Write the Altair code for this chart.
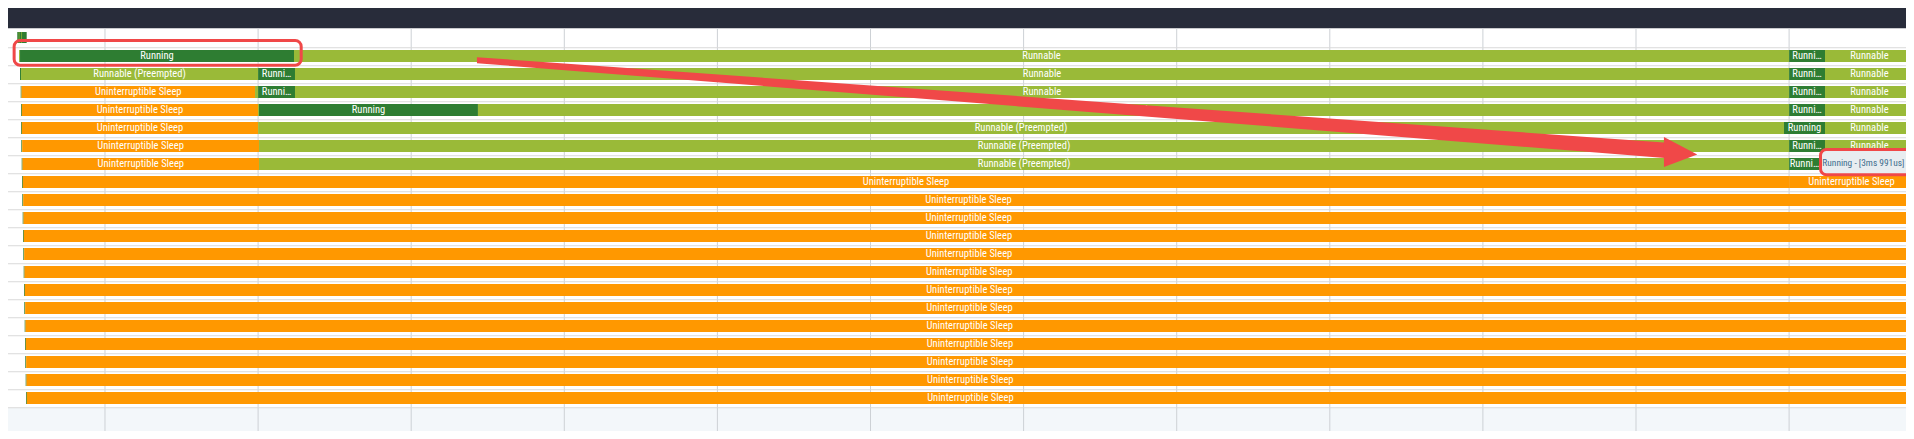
import altair as alt
import pandas as pd

# ---------------- trace data (times in ms, rows = thread tracks) ----------------
STATES = ["Running", "Runnable", "Runnable (Preempted)", "Uninterruptible Sleep"]
STATE_COLORS = ["#2e7d32", "#9aba38", "#9aba38", "#ff9800"]

R, RB, RP, D = STATES

slice_row = (
    [1] * 5 + [2] * 6 + [3] * 7 + [4] * 7 + [5] * 5 + [6] * 5 + [7] * 5 + [8] * 3
)
slice_state = [
    RB, R, RB, R, RB,
    R, RP, R, RB, R, RB,
    R, D, RB, R, RB, R, RB,
    R, D, RB, R, RB, R, RB,
    R, D, RP, R, RB,
    R, D, RP, R, RB,
    R, D, RP, R, RB,
    R, D, D,
]
slice_start = [
    88.77, 88.90, 124.69, 320.00, 324.69,
    88.90, 89.03, 120.00, 124.82, 320.00, 324.69,
    88.99, 89.10, 119.60, 120.00, 124.82, 320.00, 324.69,
    89.03, 89.14, 119.99, 120.12, 148.72, 320.00, 324.69,
    89.03, 89.14, 120.00, 319.33, 324.69,
    89.07, 89.18, 120.12, 320.00, 324.69,
    89.12, 89.23, 120.12, 320.00, 323.99,
    89.16, 89.27, 320.00,
]
slice_end = [
    88.90, 124.69, 320.00, 324.69, 345.0,
    89.03, 120.00, 124.82, 320.00, 324.69, 345.0,
    89.10, 119.60, 120.00, 124.82, 320.00, 324.69, 345.0,
    89.14, 119.99, 120.12, 148.72, 320.00, 324.69, 345.0,
    89.14, 120.00, 319.33, 324.69, 345.0,
    89.18, 120.12, 320.00, 324.69, 345.0,
    89.23, 120.12, 320.00, 323.99, 345.0,
    89.27, 320.00, 345.0,
]

# rows 9..20: a brief Running slice, then Uninterruptible Sleep to the end
sleep_rows = list(range(9, 21))
sleep_wake = [89.20, 89.25, 89.29, 89.33, 89.38, 89.42, 89.46, 89.51, 89.55, 89.59, 89.64, 89.68]
for r, s in zip(sleep_rows, sleep_wake):
    slice_row += [r, r]
    slice_state += [R, D]
    slice_start += [s, s + 0.11]
    slice_end += [s + 0.11, 345.0]

# summary track marks (top)
summary_start = [88.54, 88.73, 89.07]
summary_end = [89.77, 88.81, 89.16]
summary_state = [R, RB, RB]

# timeline grid (ms)
grid_t = [100, 120, 140, 160, 180, 200, 220, 240, 260, 280, 300, 320]

# tooltip
tooltip_text = ["Running - [3ms 991us]"]

# annotation (red highlight box around first Running slice, arrow, box around tooltip)
hl_t = [88.13, 125.63]
hl_l = [0.472, 1.844]
arrow_shaft_t = [148.59, 305.0]
arrow_shaft_top = [1.40, 6.18]
arrow_shaft_bot = [1.733, 7.04]
arrow_head_t = [303.65, 308.0]
arrow_head_top = [5.833, 6.806]
arrow_head_bot = [7.50, 6.806]
tip_box_t = [324.29, 340.0]
tip_box_l = [6.59, 7.92]
tip_hl_t = [324.10, 340.0]
tip_hl_l = [6.53, 7.93]

# ---------------- view / style ----------------
W, H = 1898, 423
T0, T1 = 87.329, 335.27          # visible time window
L0, L1 = -1.3333, 22.1667        # visible lane window
VIS_T0, VIS_T1 = 86.28, 336.31   # timeline viewport used for label centring
RED = "#f04848"
FONT = "Roboto Condensed, Roboto, sans-serif"

xs = alt.Scale(domain=[T0, T1], nice=False, zero=False)
ys = alt.Scale(domain=[L0, L1], nice=False, zero=False, reverse=True)


def X(f):
    return alt.X(f, type="quantitative", scale=xs, axis=None)


def Y(f):
    return alt.Y(f, type="quantitative", scale=ys, axis=None)


slices = pd.DataFrame(
    {"row": slice_row, "state": slice_state, "start": slice_start, "end": slice_end}
)

header = alt.Chart(pd.DataFrame({"a": [T0 - 5], "b": [T1 + 5], "l0": [L0 - 1], "l1": [-0.204]})).mark_rect(
    color="#282c3a", clip=True
).encode(x=X("a"), x2="b", y=Y("l0"), y2="l1")

bottom = alt.Chart(pd.DataFrame({"a": [T0 - 5], "b": [T1 + 5], "l0": [20.875], "l1": [L1 + 2]})).mark_rect(
    color="#f3f7fa", clip=True
).encode(x=X("a"), x2="b", y=Y("l0"), y2="l1")

grid = alt.Chart(pd.DataFrame({"t": grid_t})).transform_calculate(
    l0="-0.204", l1="24"
).mark_rule(color="#cdd1d5", strokeWidth=1, clip=True).encode(x=X("t"), y=Y("l0:Q"), y2="l1:Q")

seps = alt.Chart(pd.DataFrame({"r": list(range(1, 22))})).transform_calculate(
    l="datum.r - 0.125"
).mark_rule(color="#d9d9d9", strokeWidth=1, clip=True).encode(
    y=Y("l:Q"), x=alt.value(0), x2=alt.value(W)
)

color_scale = alt.Scale(domain=STATES, range=STATE_COLORS)

bars = alt.Chart(slices).transform_calculate(
    row_end="datum.row + 12/18"
).mark_rect(clip=True).encode(
    x=X("start"), x2="end", y=Y("row"), y2="row_end:Q",
    color=alt.Color("state:N", scale=color_scale, legend=None),
)

summary = alt.Chart(
    pd.DataFrame({"start": summary_start, "end": summary_end, "state": summary_state})
).transform_calculate(l0="0", l1="11/18").mark_rect(clip=True).encode(
    x=X("start"), x2="end", y=Y("l0:Q"), y2="l1:Q",
    color=alt.Color("state:N", scale=color_scale, legend=None),
)

labels = alt.Chart(slices).transform_calculate(
    dur="datum.end - datum.start",
    mid=f"(max(datum.start, {VIS_T0}) + min(datum.end, {VIS_T1})) / 2",
    ly="datum.row + 6/18",
    label="(datum.end - datum.start) < 1.5 ? '' : ((datum.end - datum.start) < 5 ? substring(datum.state, 0, 5) + '\u2026' : datum.state)",
).mark_text(
    font=FONT, fontSize=10.5, color="white", baseline="middle", align="center", dy=0.5, clip=True
).encode(x=X("mid:Q"), y=Y("ly:Q"), text="label:N")

highlight = alt.Chart(pd.DataFrame({"a": [hl_t[0]], "b": [hl_t[1]], "l0": [hl_l[0]], "l1": [hl_l[1]]})).mark_rect(
    fillOpacity=0, stroke=RED, strokeWidth=3, cornerRadius=6, clip=True
).encode(x=X("a"), x2="b", y=Y("l0"), y2="l1")

shaft = alt.Chart(
    pd.DataFrame({"t": arrow_shaft_t, "top": arrow_shaft_top, "bot": arrow_shaft_bot})
).mark_area(color=RED, orient="vertical", clip=True).encode(x=X("t"), y=Y("top"), y2="bot")

head = alt.Chart(
    pd.DataFrame({"t": arrow_head_t, "top": arrow_head_top, "bot": arrow_head_bot})
).mark_area(color=RED, orient="vertical", clip=True).encode(x=X("t"), y=Y("top"), y2="bot")

tip_box = alt.Chart(pd.DataFrame({"a": [tip_box_t[0]], "b": [tip_box_t[1]], "l0": [tip_box_l[0]], "l1": [tip_box_l[1]]})).mark_rect(
    color="#e8edf0", clip=True
).encode(x=X("a"), x2="b", y=Y("l0"), y2="l1")

tip_text = alt.Chart(pd.DataFrame({"txt": tooltip_text, "t": [tip_box_t[0] + 0.05], "l": [(tip_box_l[0] + tip_box_l[1]) / 2]})).mark_text(
    font=FONT, fontSize=9.4, color="#3f6e8e", align="left", baseline="middle", clip=True
).encode(x=X("t"), y=Y("l"), text="txt:N")

tip_hl = alt.Chart(pd.DataFrame({"a": [tip_hl_t[0]], "b": [tip_hl_t[1]], "l0": [tip_hl_l[0]], "l1": [tip_hl_l[1]]})).mark_rect(
    fillOpacity=0, stroke=RED, strokeWidth=3, cornerRadius=6, clip=True
).encode(x=X("a"), x2="b", y=Y("l0"), y2="l1")

chart = alt.layer(
    header, bottom, grid, seps, bars, summary, labels, highlight, shaft, head, tip_box, tip_text, tip_hl
).properties(
    width=W, height=H, autosize=alt.AutoSizeParams(type="none"), padding=0, background="white"
).configure_view(stroke=None)

chart.save("out.html", embed_options={"renderer": "svg", "actions": False})
